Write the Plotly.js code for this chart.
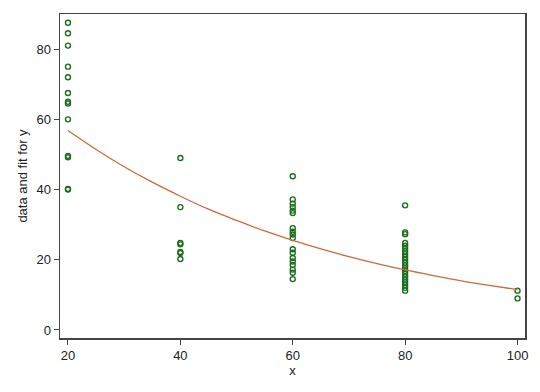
<!DOCTYPE html>
<html>
<head>
<meta charset="utf-8">
<script src="https://cdn.plot.ly/plotly-3.0.1.min.js"></script>
<style>html,body{margin:0;padding:0;background:#fff;}#chart{width:540px;height:392px;}</style>
</head>
<body>
<div id="chart"></div>
<script>
// observed data, grouped by x
const x20 = [87.5, 84.5, 81, 75, 72, 67.5, 65, 64.5, 60, 49.6, 49.2, 40.2, 40];
const x40 = [49, 35, 24.8, 24.4, 22.2, 21.9, 20.2];
const x60 = [43.8, 37.2, 36, 35, 34, 33.3, 29, 28, 27.2, 26.2, 23, 22, 20.5, 19.5, 18.5, 17.2, 16.3, 14.5];
const x80 = [35.5, 27.8, 27.3, 24.8, 24, 23.2, 22.4, 21.6, 20.8, 20, 19.2, 18.4, 17.6, 16.8, 16, 15.2, 14.4, 13.6, 12.8, 12, 11.2];
const x100 = [11.2, 9];
const groups = [[20, x20], [40, x40], [60, x60], [80, x80], [100, x100]];

// fitted curve
const fitX = [20, 25, 30, 35, 40, 45, 50, 55, 60, 65, 70, 75, 80, 85, 90, 95, 100];
const fitY = [56.8, 51.4, 46.5, 42.1, 38.1, 34.4, 31.2, 28.2, 25.5, 23.1, 20.9, 18.9, 17.1, 15.5, 14.0, 12.7, 11.5];

const xTicks = [20, 40, 60, 80, 100];
const yTicks = [0, 20, 40, 60, 80];

const px = [], py = [];
groups.forEach(([xv, ys]) => ys.forEach(v => { px.push(xv); py.push(v); }));

const data = [
  {x: px, y: py, type: 'scatter', mode: 'markers',
   marker: {symbol: 'circle-open', size: 5, color: '#1b6e1b', line: {width: 1.4, color: '#1b6e1b'}},
   showlegend: false, hoverinfo: 'skip'},
  {x: fitX, y: fitY, type: 'scatter', mode: 'lines',
   line: {color: '#cc6a3a', width: 1.3, shape: 'spline'}, showlegend: false, hoverinfo: 'skip'}
];

const font = {family: 'Liberation Sans, Arial, sans-serif', size: 13, color: '#222'};
const layout = {
  width: 540, height: 392,
  margin: {l: 60, r: 15, t: 14, b: 54},
  paper_bgcolor: '#fff', plot_bgcolor: '#fff',
  font: font,
  xaxis: {range: [18.58, 101.33], tickvals: xTicks, ticktext: xTicks.map(String),
          showgrid: false, zeroline: false, showline: true, mirror: true,
          linecolor: '#444', linewidth: 1.5, ticks: 'outside', ticklen: 5, tickcolor: '#444',
          tickfont: font, title: {text: 'x', font: font, standoff: 2}},
  yaxis: {range: [-2.28, 90], tickvals: yTicks, ticktext: yTicks.map(String),
          showgrid: false, zeroline: false, showline: true, mirror: true,
          linecolor: '#444', linewidth: 1.5, ticks: 'outside', ticklen: 5, tickcolor: '#444',
          tickfont: font, title: {text: 'data and fit for y', font: font, standoff: 6}}
};
Plotly.newPlot('chart', data, layout, {displayModeBar: false, staticPlot: true});
</script>
</body>
</html>
